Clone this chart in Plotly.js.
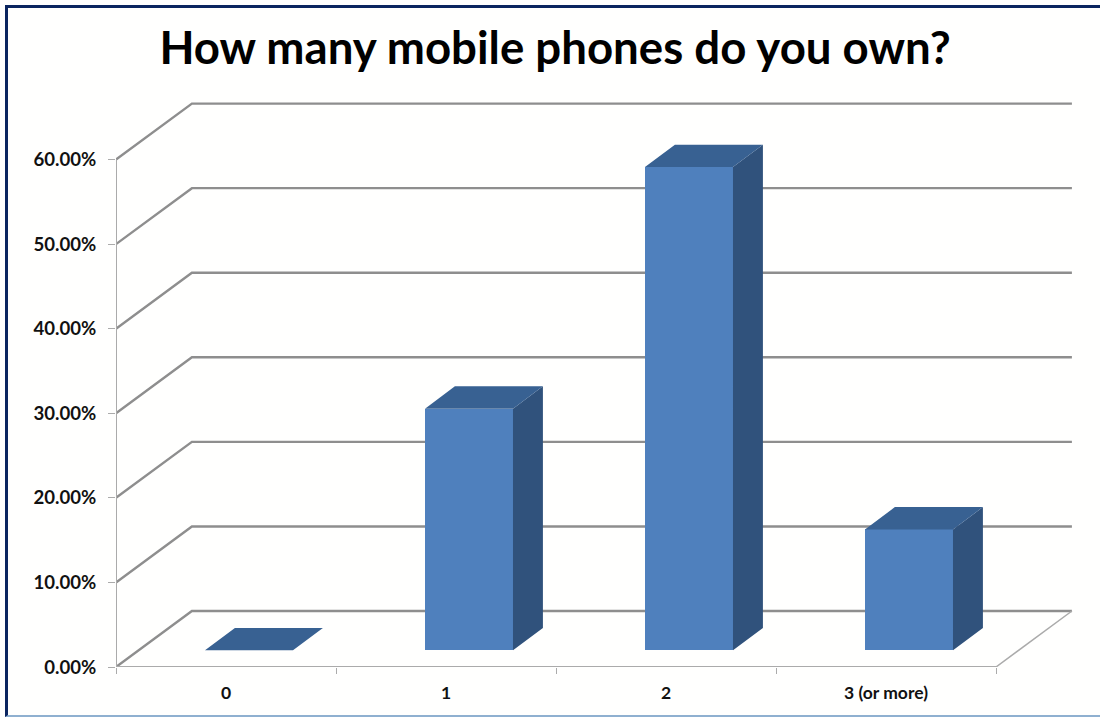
<!DOCTYPE html>
<html>
<head>
<meta charset="utf-8">
<script src="https://cdn.plot.ly/plotly-3.0.1.min.js"></script>
<style>
  html, body { margin: 0; padding: 0; background: #ffffff; }
  #frame {
    position: absolute; left: 5px; top: 5px; width: 1095px; height: 707px;
    border-left: 3px solid #0b2560; border-top: 3px solid #0b2560;
    border-bottom: 2px solid #8fb0d0; background: #fffffe;
  }
  #chart { position: absolute; left: 0; top: 0; width: 1100px; height: 717px; }
</style>
</head>
<body>
<div id="frame"></div>
<div id="chart"></div>
<script>
// Survey answers
const categories = ["0", "1", "2", "3 (or more)"];
const shares = [0, 28.57, 57.14, 14.29];
const gridLevels = [0, 10, 20, 30, 40, 50, 60];
const gridLabels = ["0.00%", "10.00%", "20.00%", "30.00%", "40.00%", "50.00%", "60.00%"];

// Pseudo-3D projection, in axis units
const wallDx = 0.345, wallDy = 6.62;     // floor depth
const barDx = 0.136, barDy = 2.65;       // bar depth
const barLift = 1.97;                    // bar sits this far up the floor
const barShift = 0.1045, barWidth = 0.4; // front face relative to its category
const axisLeft = -0.5, axisRight = 3.5;
const wallRight = axisRight + wallDx;
const positions = categories.map((_, i) => i);

const lineGrey = "#8e8e8e", axisGrey = "#ababab";
const frontBlue = "#4f80bd", topBlue = "#386192", sideBlue = "#30527c";

// Back wall and side wall rules, kept behind the bars
const gridShapes = gridLevels.map(v => ({
  type: "path", layer: "below", xref: "x", yref: "y",
  path: `M ${axisLeft} ${v} L ${axisLeft + wallDx} ${v + wallDy} L ${wallRight} ${v + wallDy}`,
  line: { color: lineGrey, width: 2.4 }
}));

// Outlines of the top and side faces, joined with gaps
const topX = [], topY = [], sideX = [], sideY = [];
positions.forEach((p, i) => {
  const l = p + barShift - barWidth / 2, r = p + barShift + barWidth / 2;
  const yFront = barLift + shares[i];
  topX.push(l, r, r + barDx, l + barDx, l, null);
  topY.push(yFront, yFront, yFront + barDy, yFront + barDy, yFront, null);
  if (shares[i] > 0) {
    sideX.push(r, r + barDx, r + barDx, r, r, null);
    sideY.push(barLift, barLift + barDy, yFront + barDy, yFront, barLift, null);
  }
});

const polygon = (x, y, color) => ({
  type: "scatter", mode: "lines", x, y, fill: "toself", fillcolor: color,
  line: { width: 0, color }, hoverinfo: "skip", showlegend: false
});
const rule = (x, y, width) => ({
  type: "scatter", mode: "lines", x, y, cliponaxis: false,
  line: { color: axisGrey, width }, hoverinfo: "skip", showlegend: false
});

const traces = [
  {
    type: "bar", x: positions.map(p => p + barShift), y: shares,
    base: barLift, width: barWidth,
    marker: { color: frontBlue, line: { width: 0 } }, showlegend: false
  },
  polygon(sideX, sideY, sideBlue),
  polygon(topX, topY, topBlue),
  rule([axisLeft, axisLeft], [0, 60], 2),
  rule([axisLeft, axisRight], [0, 0], 2),
  rule([axisRight, wallRight], [0, wallDy], 1.5)
];

const layout = {
  width: 1100, height: 717,
  margin: { l: 116, r: 16, t: 74.5, b: 50.3, pad: 0 },
  paper_bgcolor: "rgba(0,0,0,0)", plot_bgcolor: "rgba(0,0,0,0)",
  font: { family: "Lato, sans-serif", color: "#111111" },
  title: {
    text: "How many mobile phones do you own?",
    font: { family: "Lato, sans-serif", size: 45.6, weight: 700, color: "#000000" },
    x: 555 / 1100, xanchor: "center", xref: "container",
    y: 1 - 48 / 717, yanchor: "middle", yref: "container"
  },
  xaxis: {
    type: "linear", range: [axisLeft, axisRight + 0.4],
    tickmode: "array", tickvals: positions, ticktext: categories,
    ticks: "", showgrid: false, zeroline: false, showline: false,
    tickfont: { size: 17.5, weight: 700 }, ticklabelstandoff: 13,
    minor: {
      tickmode: "array", tickvals: [-0.5, 0.5, 1.5, 2.5, 3.5],
      ticks: "outside", ticklen: 6, tickwidth: 1, tickcolor: axisGrey, showgrid: false
    }
  },
  yaxis: {
    type: "linear", range: [0, 70],
    tickmode: "array", tickvals: gridLevels, ticktext: gridLabels,
    ticks: "outside", ticklen: 7, tickwidth: 1, tickcolor: axisGrey,
    showgrid: false, zeroline: false, showline: false,
    tickfont: { size: 18.6, weight: 700 }, ticklabelstandoff: 8
  },
  shapes: gridShapes,
  bargap: 0
};

Plotly.newPlot("chart", traces, layout, { displayModeBar: false, responsive: false });
</script>
</body>
</html>
